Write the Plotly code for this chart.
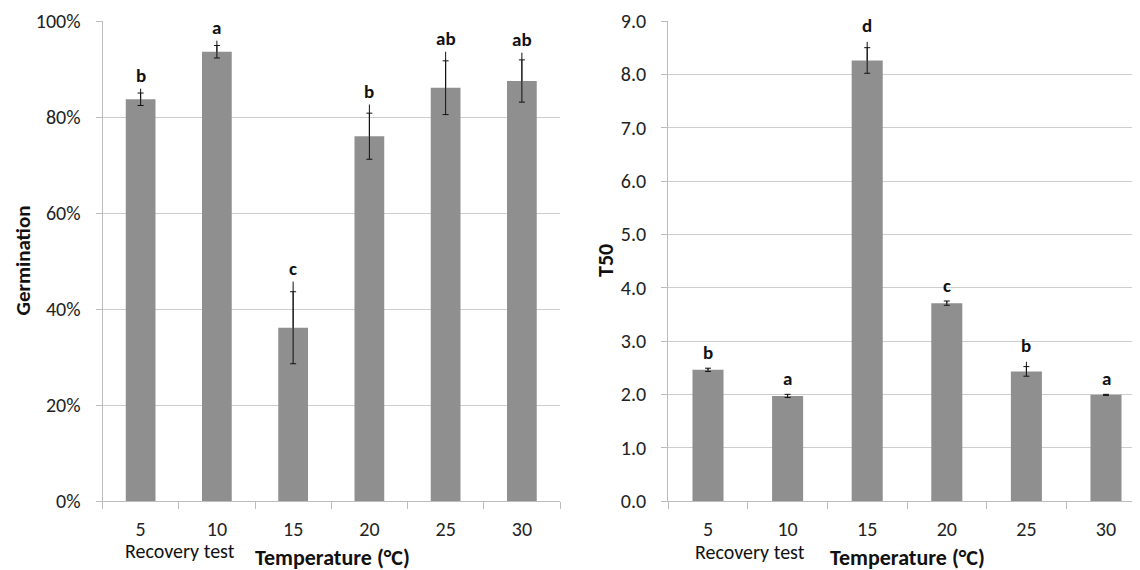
import plotly.graph_objects as go

# page body has an 8px margin; figure sized so it fits the 1140x570 window
OFF = 8
W, H = 1140 - OFF, 570 - OFF

temps = ["5", "10", "15", "20", "25", "30"]

germ_mean = [83.7, 93.6, 36.1, 76.0, 86.1, 87.5]
germ_se = [1.3, 1.3, 7.5, 4.8, 5.6, 4.4]
germ_top = [85.9, 95.9, 45.7, 82.6, 93.6, 93.4]
germ_letters = ["b", "a", "c", "b", "ab", "ab"]

t50_mean = [2.46, 1.97, 8.26, 3.71, 2.43, 1.99]
t50_se = [0.03, 0.03, 0.24, 0.04, 0.09, 0.01]
t50_top = [2.49, 2.00, 8.61, 3.75, 2.61, 2.00]
t50_letters = ["b", "a", "d", "c", "b", "a"]

FONT = "Calibri, Carlito, Lato, sans-serif"
BAR = "#8f8f8f"
GRID = "#cdcdcd"
AX = "#bcbcbc"
TXT = "#222222"

fig = go.Figure()


def add_panel(mean, se, top, xa, ya):
    fig.add_trace(go.Bar(
        x=temps, y=mean, width=0.39, marker=dict(color=BAR, line=dict(width=0)),
        error_y=dict(type="data", array=se, visible=True, thickness=1, width=3, color="#111111"),
        xaxis=xa, yaxis=ya, showlegend=False, hoverinfo="skip"))
    ext = [t - m for t, m in zip(top, mean)]
    fig.add_trace(go.Scatter(
        x=temps, y=mean, mode="markers", marker=dict(size=1, opacity=0),
        error_y=dict(type="data", symmetric=False, array=ext, arrayminus=[0] * len(ext),
                     visible=True, thickness=1, width=0, color="#111111"),
        xaxis=xa, yaxis=ya, showlegend=False, hoverinfo="skip"))


add_panel(germ_mean, germ_se, germ_top, "x", "y")
add_panel(t50_mean, t50_se, t50_top, "x2", "y2")

ann = []
for i, (top, lab) in enumerate(zip(germ_top, germ_letters)):
    ann.append(dict(x=i, y=top, xref="x", yref="y", text=f"<b>{lab}</b>", showarrow=False,
                    yanchor="middle", yshift=13, font=dict(family=FONT, size=19, color="#111")))
for i, (top, lab) in enumerate(zip(t50_top, t50_letters)):
    ann.append(dict(x=i, y=top, xref="x2", yref="y2", text=f"<b>{lab}</b>", showarrow=False,
                    yanchor="middle", yshift=16, font=dict(family=FONT, size=19, color="#111")))


def px(xp, yp):
    return (xp - OFF) / W, 1 - (yp - OFF) / H


for text, (xp, yp), size, bold, angle in [
    ("Germination", (22.5, 261), 21, True, -90),
    ("T50", (606, 261), 22, True, -90),
    ("Temperature (°C)", (332, 557), 22, True, 0),
    ("Temperature (°C)", (907, 557), 22, True, 0),
    ("Recovery test", (179.5, 551), 20, False, 0),
    ("Recovery test", (749.6, 552), 20, False, 0),
]:
    x, y = px(xp, yp)
    ann.append(dict(x=x, y=y, xref="paper", yref="paper", xanchor="center", yanchor="middle",
                    text=f"<b>{text}</b>" if bold else text, showarrow=False, textangle=angle,
                    borderpad=0, font=dict(family=FONT, size=size, color="#111")))

ydom = [1 - (501 - OFF) / H, 1 - (21 - OFF) / H]
xcommon = dict(type="category", tickson="boundaries", ticks="outside", ticklen=7, tickcolor=AX,
               showline=True, linecolor=AX, linewidth=1, showgrid=False, zeroline=False,
               automargin=False,
               tickfont=dict(family=FONT, size=20, color=TXT), ticklabelstandoff=10)
ycommon = dict(showline=True, linecolor=AX, linewidth=1, ticks="outside", ticklen=6, tickcolor=AX,
               showgrid=True, gridcolor=GRID, gridwidth=1, zeroline=False, domain=ydom,
               automargin=False,
               tickfont=dict(family=FONT, size=20, color=TXT), ticklabelstandoff=11)

fig.update_layout(
    width=W, height=H, margin=dict(l=0, r=0, t=0, b=0, pad=0),
    paper_bgcolor="white", plot_bgcolor="white",
    xaxis=dict(domain=[(102.5 - OFF) / W, (560 - OFF) / W], range=[-0.5, 5.5], anchor="y", **xcommon),
    xaxis2=dict(domain=[(668.2 - OFF) / W, 1.0], range=[-0.5, -0.5 + (1140 - 668.2) / 79.6],
                anchor="y2", **xcommon),
    yaxis=dict(range=[0, 100], dtick=20, ticksuffix="%", anchor="x", **ycommon),
    yaxis2=dict(range=[0, 9], dtick=1, tickformat=".1f", anchor="x2", **ycommon),
    annotations=ann,
    bargap=0.6,
)

fig.write_html("out.html")
